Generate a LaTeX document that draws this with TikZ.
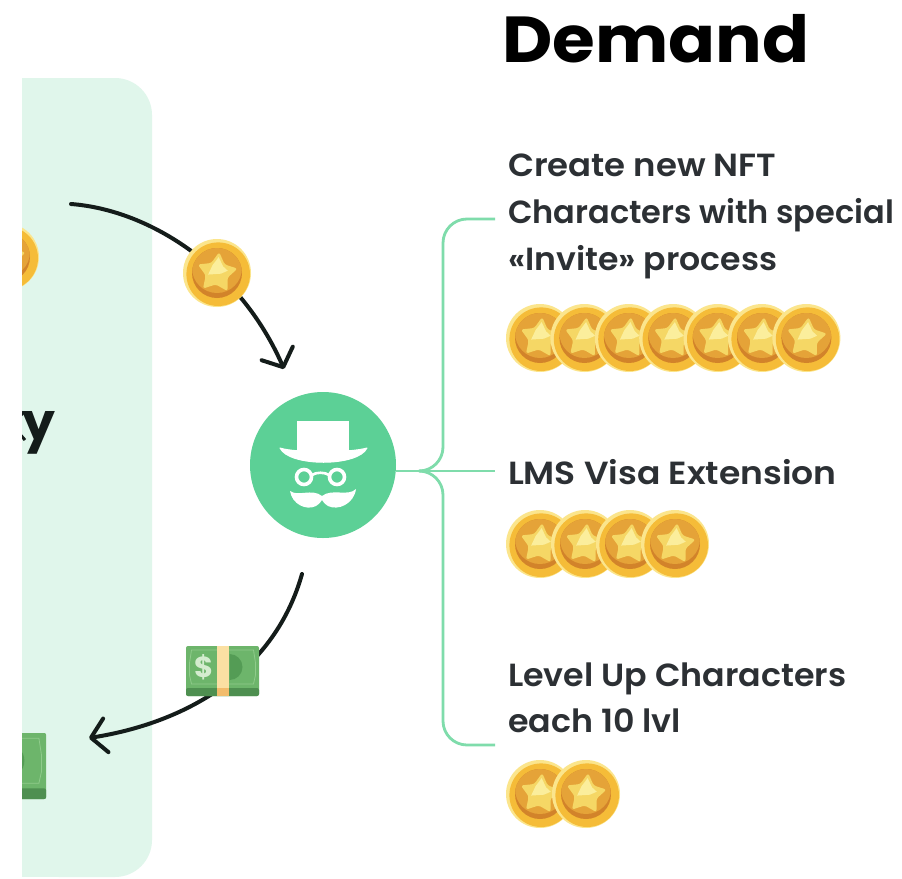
\documentclass[tikz,border=0pt]{standalone}
\usepackage{fontspec}
\setmainfont{Poppins}[UprightFont=* SemiBold,BoldFont=* Bold]
\usetikzlibrary{arrows.meta,shadings}
\definecolor{panelgreen}{HTML}{E0F6EB}
\definecolor{agentgreen}{HTML}{5CD096}
\definecolor{linegreen}{HTML}{7FDCAB}
\definecolor{ink}{HTML}{2C3034}
\definecolor{arrowink}{HTML}{141C1A}
\definecolor{coinrim}{HTML}{F5BC38}
\definecolor{coinlight}{HTML}{FBE58C}
\definecolor{coinface}{HTML}{E5A338}
\definecolor{coindark}{HTML}{D2832A}
\definecolor{starfill}{HTML}{F5D765}
\definecolor{starhi}{HTML}{FBEE9C}
\definecolor{billgreen}{HTML}{6DB56B}
\definecolor{billdark}{HTML}{4E8F50}
\definecolor{billmid}{HTML}{549C55}
\definecolor{billline}{HTML}{8FCB8B}
\definecolor{billtext}{HTML}{D4ECCF}
\definecolor{bandlight}{HTML}{FBE0A3}
\definecolor{banddark}{HTML}{F2BC6C}
\newcommand{\wide}[1]{\addfontfeature{FakeStretch=#1}}
\tikzset{
  x=1pt,y=-1pt,
  flow/.style={draw=arrowink,line width=4pt,line cap=round,
    -{Straight Barb[length=15pt,width=34pt,line width=4pt,round]}},
  branch/.style={draw=linegreen,line width=2.8pt,rounded corners=24pt},
  label/.style={anchor=base west,inner sep=0pt,outer sep=0pt,text=ink,font=\fontsize{32}{39}\selectfont},
  coin/.pic={
    \fill[coinlight] (0,0) circle (34);
    \fill[coinrim] (1.2,1.2) circle (31.8);
    \fill[coindark] (0,0) circle (25);
    \begin{scope}
      \clip (0,0) circle (25);
      \fill[coinface] (0,-5) circle (25);
    \end{scope}
    \fill[starfill,rounded corners=2.5pt] (-84:21) -- (-48:11.5) -- (-12:21) -- (24:11.5) -- (60:21)
      -- (96:11.5) -- (132:21) -- (168:11.5) -- (204:21) -- (240:11.5) -- cycle;
    \fill[starhi] (-84:16) -- (-48:9) -- (-12:11) -- (10:4) -- (170:9) -- (240:9) -- cycle;
  },
  bill/.pic={
    \fill[billgreen,rounded corners=2pt] (-36.5,-25) rectangle (36.5,25);
    \fill[billdark,rounded corners=2pt] (-36.5,17) rectangle (36.5,25);
    \draw[billline,line width=.8pt] (-31,-21) -- (31,-21) -- (33,-8) -- (33,4) -- (31,13) -- (-31,13)
      -- (-33,4) -- (-33,-8) -- cycle;
    \fill[billmid] (7,-17) arc (-90:90:13) -- cycle;
    \fill[bandlight] (-6,-25) rectangle (6,17);
    \fill[banddark] (-6,17) rectangle (6,25);
  }
}
\begin{document}
\begin{tikzpicture}
\useasboundingbox (0,0) rectangle (902,878);
\fill[white] (0,0) rectangle (902,878);
% panel
\fill[panelgreen,rounded corners=37pt] (22,78) -- (152,78) -- (152,877) -- (22,877) [sharp corners] -- cycle;
\fill[panelgreen] (22,78) rectangle (60,877);
% items clipped by the panel's left edge
\begin{scope}
  \clip (22,0) rectangle (200,878);
  \pic at (5,257) {coin};
  \pic[scale=1.32] at (-2,766) {bill};
  \draw[arrowink,line width=3pt] (18,418) -- (24,412) (18,432) -- (25,440);
\end{scope}
\node[anchor=base west,inner sep=0pt,text=arrowink,font=\fontsize{52}{60}\bfseries] (cut) at (22,440) {y};

% agent
\node[circle,fill=agentgreen,minimum size=146pt,inner sep=0pt] (agent) at (323,465) {};
\fill[white] (297,421) rectangle (349,455);
\fill[white,line join=round,draw=white,line width=1pt] (280,448) .. controls (295,453) and (350,453) .. (367,448)
  .. controls (358,467) and (289,467) .. (280,448) -- cycle;
\draw[white,line width=3.6pt] (304,477) circle (7.5) (337,477) circle (7.5);
\draw[white,line width=2.6pt] (312,475) .. controls (316,472) and (325,472) .. (329,475);
\fill[white] (290,491) .. controls (298,497) and (312,488) .. (322,496)
  .. controls (332,488) and (348,497) .. (356,489)
  .. controls (354,504) and (338,511) .. (328,506)
  .. controls (325,504) and (323,502) .. (322,500)
  .. controls (321,502) and (319,504) .. (316,506)
  .. controls (306,511) and (292,504) .. (290,491) -- cycle;

% texts
\node[anchor=base west,inner sep=0pt,text=black,font=\fontsize{65}{76}\bfseries\wide{1.065}] (title) at (502,62) {Demand};
\node[label] (t1) at (508,176) {\wide{1.06}Create new NFT};
\node[label] (t2) at (508,223) {Characters with special};
\node[label] (t3) at (508,270) {\wide{1.035}«Invite» process};
\node[label] (t4) at (508,484) {\wide{1.08}LMS Visa Extension};
\node[label] (t5) at (508,686) {\wide{1.04}Level Up Characters};
\node[label] (t6) at (508,732) {\wide{1.04}each 10 lvl};

% branches
\coordinate (end1) at (495,219);
\coordinate (end2) at (495,471);
\coordinate (end3) at (495,745);
\coordinate (fork) at (425,471);
\draw[draw=linegreen,line width=2.8pt] (agent.east |- end2) -- (end2);
\draw[branch] (end1) -- (443,219) -- (443,471) -- (fork);
\draw[branch] (end3) -- (443,745) -- (443,471) -- (fork);

% flows
\coordinate (s1) at (71,204);
\coordinate (e1) at (284,369);
\coordinate (s2) at (302,574);
\coordinate (e2) at (89,738);
\draw[flow] (s1) .. controls (150,210) and (240,268) .. (e1);
\draw[flow] (s2) .. controls (275,670) and (190,722) .. (e2);
\pic at (217,273) {coin};
\pic at (222.5,671) {bill};
\node[anchor=center,inner sep=0pt,text=billtext,font=\fontsize{29}{30}\bfseries] (dollar) at (204,667) {\$};

% coin rows
\foreach \i in {0,...,6}{\pic at ({540+44.4*\i},338) {coin};}
\foreach \i in {0,...,3}{\pic at ({540+45*\i},544) {coin};}
\foreach \i in {0,1}{\pic at ({540+46*\i},794) {coin};}
\end{tikzpicture}
\end{document}
